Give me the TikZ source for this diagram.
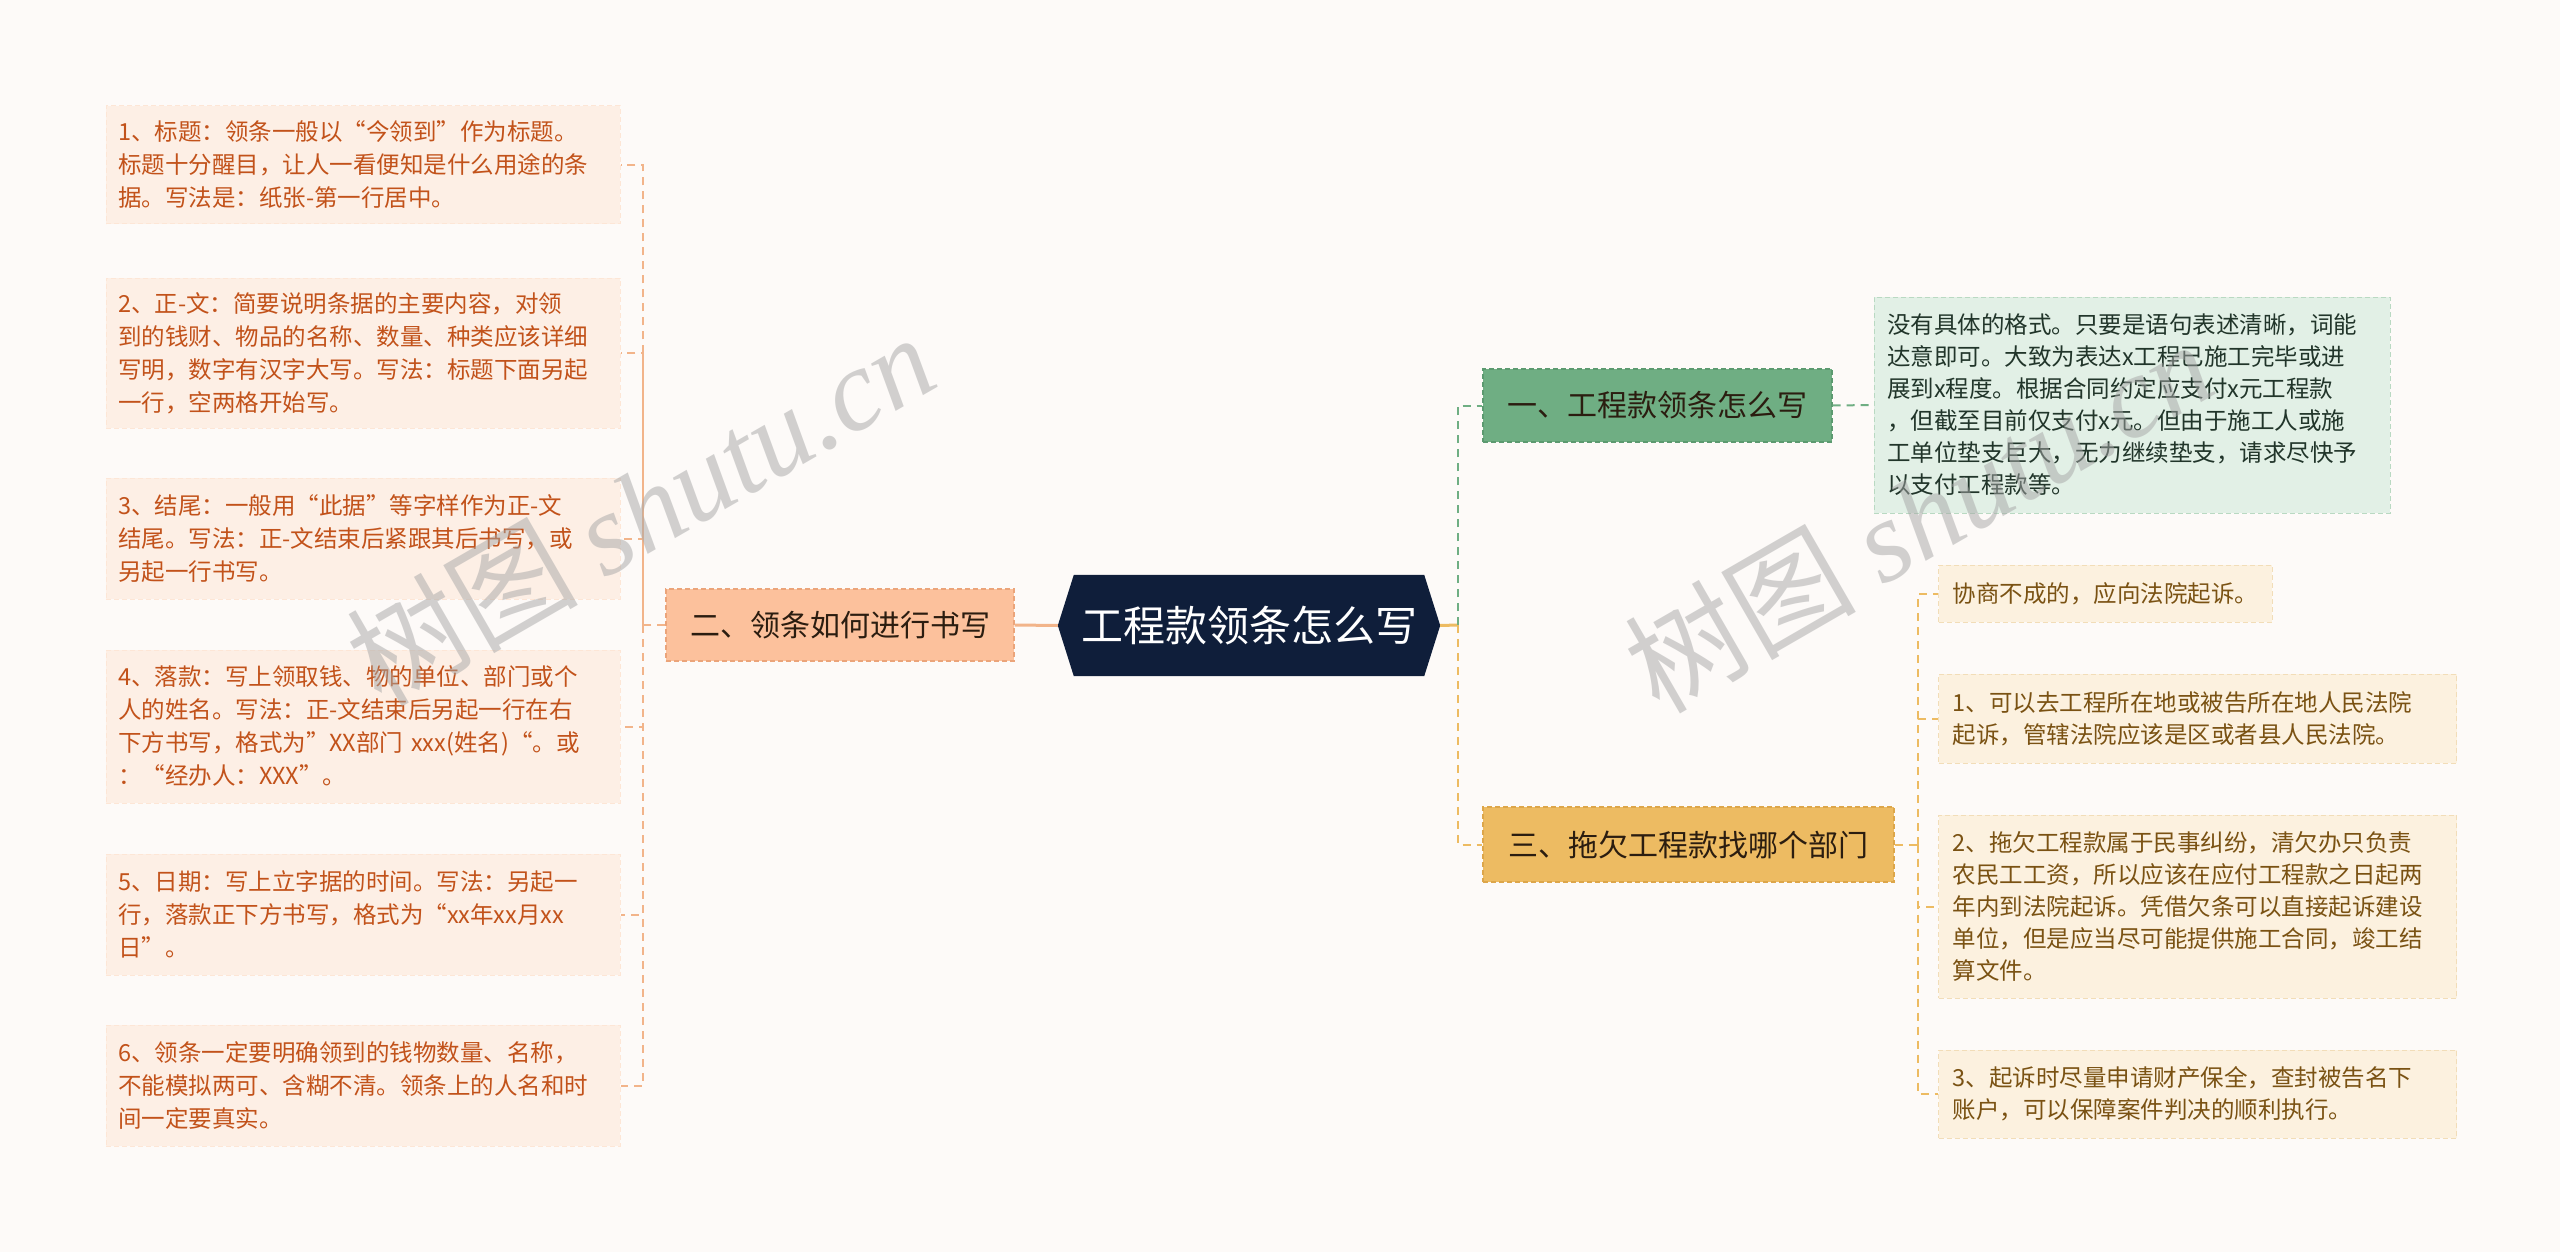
\documentclass[tikz,border=0pt]{standalone}
\usepackage{fontspec}
\newfontfamily\cjk{Noto Sans CJK SC}
\newfontfamily\wmlat{Liberation Serif}
\usetikzlibrary{calc}
\definecolor{bg}{HTML}{FDFAF8}
\definecolor{navy}{HTML}{0F1E3A}
\definecolor{peach}{HTML}{FCC19C}
\definecolor{peachline}{HTML}{F2B48A}
\definecolor{peachdark}{HTML}{EBA47A}
\definecolor{leafLfill}{HTML}{FDEFE5}
\definecolor{leafLtext}{HTML}{C2521A}
\definecolor{green}{HTML}{6FAE83}
\definecolor{greendark}{HTML}{5C9A70}
\definecolor{greenfill}{HTML}{E2F0E6}
\definecolor{greenborder}{HTML}{B9D9C2}
\definecolor{greentext}{HTML}{21352A}
\definecolor{gold}{HTML}{EDBB62}
\definecolor{golddark}{HTML}{DDA64A}
\definecolor{goldfill}{HTML}{FCF1DF}
\definecolor{goldborder}{HTML}{F2DDB8}
\definecolor{goldtext}{HTML}{7A5213}
\definecolor{darktext}{HTML}{2B1D10}
\begin{document}
\begin{tikzpicture}[x=1pt,y=-1pt,
  conn/.style={line width=2pt, dash pattern=on 8pt off 6pt},
  leafL/.style={fill=leafLfill, draw=leafLfill!80!peach, dash pattern=on 5pt off 3pt, line width=1pt,
    text=leafLtext, text width=490pt, inner xsep=12pt, inner ysep=0pt, align=left,
    font=\cjk\fontsize{23.5}{33}\selectfont},
  leafG/.style={fill=greenfill, draw=greenborder, dash pattern=on 5pt off 3pt, line width=1pt,
    text=greentext, text width=490pt, inner xsep=13pt, inner ysep=0pt, align=left,
    font=\cjk\fontsize{23.5}{32}\selectfont},
  leafY/.style={fill=goldfill, draw=goldborder, dash pattern=on 5pt off 3pt, line width=1pt,
    text=goldtext, inner xsep=14pt, inner ysep=0pt, align=left,
    font=\cjk\fontsize{23.5}{32}\selectfont},
  branch/.style={line width=1.2pt, dash pattern=on 5pt off 3pt, inner sep=0pt,
    font=\cjk\fontsize{30}{36}\selectfont, text=darktext},
  wm/.style={text=black!35, opacity=0.5, inner sep=0pt}
]
\fill[bg] (0,0) rectangle (2560,1252);
\useasboundingbox (0,0) rectangle (2560,1252);

% ---- root ----
\path (1249,625.5) node[minimum width=382pt, minimum height=101pt, inner sep=0pt] (root) {};
\fill[navy] (root.west) -- ([xshift=16pt]root.north west) -- ([xshift=-16pt]root.north east)
  -- (root.east) -- ([xshift=-16pt]root.south east) -- ([xshift=16pt]root.south west) -- cycle;
\node[text=white, font=\cjk\fontsize{42}{48}\selectfont, inner sep=0pt] (roottext) at (root.center) {工程款领条怎么写};

% ---- main branches ----
\node[branch, fill=peach, draw=peachdark, minimum width=348pt, minimum height=72pt] (n2) at (840,625) {二、领条如何进行书写};
\node[branch, fill=green, draw=greendark, minimum width=349pt, minimum height=73pt] (n1) at (1657.5,405.5) {一、工程款领条怎么写};
\node[branch, fill=gold, draw=golddark, minimum width=411pt, minimum height=75pt] (n3) at (1688.5,844.5) {三、拖欠工程款找哪个部门};

% ---- left leaves ----
\node[leafL, minimum height=118pt] (l1) at (363,165) {1、标题：领条一般以“今领到”作为标题。\\标题十分醒目，让人一看便知是什么用途的条\\据。写法是：纸张-第一行居中。};
\node[leafL, minimum height=150pt] (l2) at (363,353) {2、正-文：简要说明条据的主要内容，对领\\到的钱财、物品的名称、数量、种类应该详细\\写明，数字有汉字大写。写法：标题下面另起\\一行，空两格开始写。};
\node[leafL, minimum height=121pt] (l3) at (363,538.5) {3、结尾：一般用“此据”等字样作为正-文\\结尾。写法：正-文结束后紧跟其后书写，或\\另起一行书写。};
\node[leafL, minimum height=153pt] (l4) at (363,726.5) {4、落款：写上领取钱、物的单位、部门或个\\人的姓名。写法：正-文结束后另起一行在右\\下方书写，格式为”XX部门 xxx(姓名)“。或\\：“经办人：XXX”。};
\node[leafL, minimum height=121pt] (l5) at (363,914.5) {5、日期：写上立字据的时间。写法：另起一\\行，落款正下方书写，格式为“xx年xx月xx\\日”。};
\node[leafL, minimum height=121pt] (l6) at (363,1085.5) {6、领条一定要明确领到的钱物数量、名称，\\不能模拟两可、含糊不清。领条上的人名和时\\间一定要真实。};

% ---- green leaf ----
\node[leafG, minimum height=216pt] (g1) at (2132,405) {没有具体的格式。只要是语句表述清晰，词能\\达意即可。大致为表达x工程已施工完毕或进\\展到x程度。根据合同约定应支付x元工程款\\，但截至目前仅支付x元。但由于施工人或施\\工单位垫支巨大，无力继续垫支，请求尽快予\\以支付工程款等。};

% ---- yellow leaves ----
\node[leafY, minimum height=57pt, anchor=west] (y1) at (1938,593.5) {协商不成的，应向法院起诉。};
\node[leafY, text width=490pt, minimum height=89pt, anchor=west] (y2) at (1938,718.5) {1、可以去工程所在地或被告所在地人民法院\\起诉，管辖法院应该是区或者县人民法院。};
\node[leafY, text width=490pt, minimum height=183pt, anchor=west] (y3) at (1938,906.5) {2、拖欠工程款属于民事纠纷，清欠办只负责\\农民工工资，所以应该在应付工程款之日起两\\年内到法院起诉。凭借欠条可以直接起诉建设\\单位，但是应当尽可能提供施工合同，竣工结\\算文件。};
\node[leafY, text width=490pt, minimum height=88pt, anchor=west] (y4) at (1938,1094) {3、起诉时尽量申请财产保全，查封被告名下\\账户，可以保障案件判决的顺利执行。};

% ---- trunk coordinates ----
\coordinate (tL) at (643,625);
\coordinate (tR) at (1458,625);
\coordinate (tY) at (1918,844.5);

% ---- connectors ----
\draw[peachline, line width=3pt] (root.west) -- (n2.east);
\draw[peachline, conn] (n2.west) -- (tL) |- (l1.east);
\foreach \n in {l2,l3,l4,l5,l6} \draw[peachline, conn] (tL) |- (\n.east);

\draw[gold, line width=3pt] (root.east) -- (tR);
\draw[green, conn] (tR) |- (n1.west);
\draw[gold, conn] (tR) |- (n3.west);
\draw[green, conn] (n1.east) -- (g1.west);

\draw[gold, conn] (n3.east) -- (tY);
\foreach \n in {y1,y2,y3,y4} \draw[gold, conn] (tY) |- (\n.west);

% ---- watermarks ----
\node[wm, rotate=30] (wm1) at (640,508) {\cjk\fontsize{116}{120}\selectfont 树图 \wmlat\itshape shutu.cn};
\node[wm, rotate=30] (wm2) at (1918,515) {\cjk\fontsize{116}{120}\selectfont 树图 \wmlat\itshape shutu.cn};
\end{tikzpicture}
\end{document}
